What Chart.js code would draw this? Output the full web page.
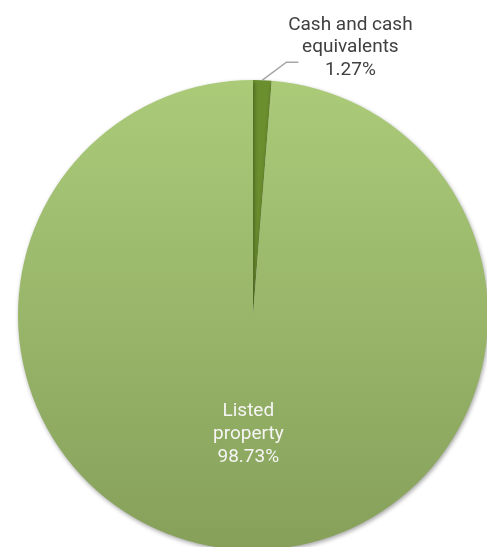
<!DOCTYPE html>
<html lang="en">
<head>
	<meta charset="UTF-8">
	<title>asset allocation pie</title>
	<style>
		html, body { margin: 0; padding: 0; overflow: hidden; background: #fff; width: 487px; height: 547px; }
		#myChart { position: absolute; left: 0; top: 0; }
	</style>
</head>
<body>

<canvas id="myChart" width="520" height="600"></canvas>

<script src="https://cdn.jsdelivr.net/npm/chart.js@4/dist/chart.umd.min.js"></script>
<script>
var labels = ['Cash and cash equivalents', 'Listed property'];
var labelLines = [['Cash and cash', 'equivalents'], ['Listed', 'property']];
var values = [1.27, 98.73];

// text next to each slice, drawn after the pie
var sliceLabels = {
    id: 'sliceLabels',
    beforeDatasetsDraw: function(chart) {
        var c = chart.ctx;
        c.save();
        c.shadowColor = 'rgba(0,0,0,0.35)';
        c.shadowBlur = 4;
        c.shadowOffsetX = 1;
        c.shadowOffsetY = 2;
    },
    afterDatasetsDraw: function(chart) {
        var c = chart.ctx;
        c.restore();
        var meta = chart.getDatasetMeta(0);
        c.save();
        c.font = '19px Roboto';
        c.textAlign = 'center';
        c.textBaseline = 'middle';

        // small slice: leader line and label outside
        var a = meta.data[0];
        var mid = (a.startAngle + a.endAngle) / 2;
        var px = a.x + Math.cos(mid) * a.outerRadius;
        var py = a.y + Math.sin(mid) * a.outerRadius;
        c.strokeStyle = '#a6a6a6';
        c.lineWidth = 1.5;
        c.beginPath();
        c.moveTo(px, py);
        c.lineTo(px + 24, py - 18);
        c.lineTo(px + 36, py - 18);
        c.stroke();
        c.fillStyle = '#404040';
        var lines0 = labelLines[0].concat([values[0].toFixed(2) + '%']);
        lines0.forEach(function(t, i) {
            c.fillText(t, px + 88, 25 + i * 22.5);
        });

        // big slice: label inside
        var b = meta.data[1];
        var pos = b.tooltipPosition();
        c.fillStyle = '#f5f5f5';
        var lines1 = labelLines[1].concat([values[1].toFixed(2) + '%']);
        lines1.forEach(function(t, i) {
            c.fillText(t, pos.x, pos.y - 21 + i * 23);
        });
        c.restore();
    }
};

function sliceColour(context) {
    if (context.dataIndex === 0) return '#6b8e2e';
    var area = context.chart.chartArea;
    if (!area) return '#9dbb6c';
    var g = context.chart.ctx.createLinearGradient(0, area.top, 0, area.bottom);
    g.addColorStop(0, '#abcb79');
    g.addColorStop(1, '#86a05a');
    return g;
}

var ctx = document.getElementById('myChart').getContext('2d');
var chart = new Chart(ctx, {
    type: 'pie',
    data: {
        labels: labels,
        datasets: [{
            data: values,
            backgroundColor: sliceColour,
            borderWidth: 0
        }]
    },
    options: {
        responsive: false,
        animation: false,
        layout: {
            padding: { left: 18, top: 80, right: 32, bottom: 50 }
        },
        plugins: {
            legend: { display: false },
            tooltip: { enabled: false }
        }
    },
    plugins: [sliceLabels]
});
</script>
</body>
</html>
